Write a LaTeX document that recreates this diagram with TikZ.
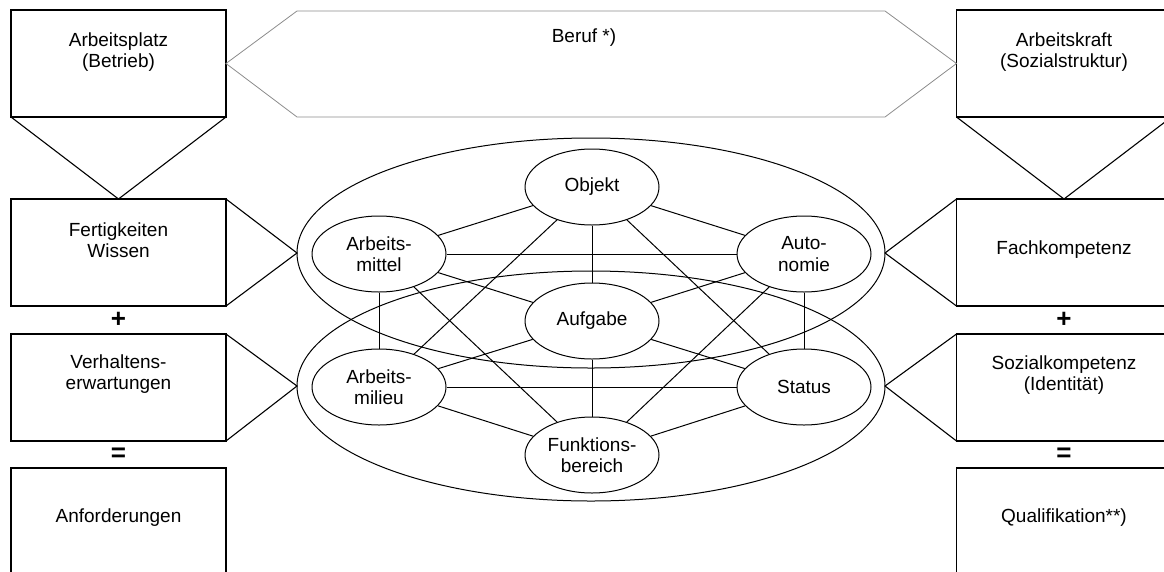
\documentclass[tikz,border=0pt]{standalone}
\usepackage{fontspec}
\setmainfont{Liberation Sans}
\usetikzlibrary{shapes.geometric}
\tikzset{
	kasten/.style={draw, line width=1.1pt, minimum width=215pt, minimum height=107pt, inner sep=0pt, outer sep=0pt},
	feld/.style={draw, ellipse, line width=1pt, minimum width=134pt, minimum height=76pt, inner sep=0pt},
	ring/.style={draw, ellipse, line width=1pt, minimum width=588pt, minimum height=230pt, inner sep=0pt, outer sep=0pt},
	linie/.style={line width=1.1pt},
	kante/.style={line width=1pt},
	zeichen/.style={font=\fontsize{26}{26}\selectfont\bfseries},
}
\begin{document}
\begin{tikzpicture}[x=1pt, y=-1pt, align=center, font=\fontsize{19}{21.5}\selectfont]
	    \useasboundingbox (0,0) rectangle (1164,571);
	    \clip (0,0) rectangle (1164,571);
	    
	    \node [kasten] (platz) at (118.5,63.5) {};
	    \node [kasten] (fert) at (118.5,252.5) {};
	    \node [kasten] (verh) at (118.5,387.5) {};
	    \node [kasten] (anf) at (118.5,521.5) {};
	    \node (platz-t) at (118.5,52) {Arbeitsplatz\\(Betrieb)};
	    \node (fert-t) at (118.5,240) {Fertigkeiten\\Wissen};
	    \node (verh-t) at (118.5,374) {Verhaltens-\\erwartungen};
	    \node (anf-t) at (118.5,518) {Anforderungen};
	    \node [zeichen] (plus-l) at (118.5,320) {+};
	    \node [zeichen] (gleich-l) at (118.5,455) {=};
	    
	    \node [kasten] (kraft) at (1064,63.5) {};
	    \node [kasten] (fach) at (1064,252.5) {};
	    \node [kasten] (sozial) at (1064,387.5) {};
	    \node [kasten] (quali) at (1064,521.5) {};
	    \node (kraft-t) at (1064,52) {Arbeitskraft\\(Sozialstruktur)};
	    \node (fach-t) at (1064,250) {Fachkompetenz};
	    \node (sozial-t) at (1064,375) {Sozialkompetenz\\(Identität)};
	    \node (quali-t) at (1064,518) {Qualifikation**)};
	    \node [zeichen] (plus-r) at (1064,320) {+};
	    \node [zeichen] (gleich-r) at (1064,455) {=};
	    
	    \coordinate (b-ol) at (297,11);
	    \coordinate (b-or) at (885,11);
	    \coordinate (b-ur) at (885,117);
	    \coordinate (b-ul) at (297,117);
	    \draw [black!45, line width=0.8pt] (platz.east) -- (b-ol) -- (b-or) -- (kraft.west) -- (b-ur) -- (b-ul) -- cycle;
	    \node (beruf) at (584,38) {Beruf *)};
	    
	    \node [ring] (oben) at (591,253) {};
	    \node [ring] (unten) at (591,386) {};
	    
	    \draw [linie] (platz.south west) -- (fert.north) -- (platz.south east);
	    \draw [linie] (kraft.south west) -- (fach.north) -- (kraft.south east);
	    \draw [linie] (fert.north east) -- (oben.west) -- (fert.south east);
	    \draw [linie] (verh.north east) -- (unten.west) -- (verh.south east);
	    \draw [linie] (fach.north west) -- (oben.east) -- (fach.south west);
	    \draw [linie] (sozial.north west) -- (unten.east) -- (sozial.south west);
	    
	    \node [feld] (objekt) at (592,187) {Objekt};
	    \node [feld] (mittel) at (379,254) {Arbeits-\\mittel};
	    \node [feld] (autonomie) at (804,254) {Auto-\\nomie};
	    \node [feld] (aufgabe) at (592,321) {Aufgabe};
	    \node [feld] (milieu) at (379,387) {Arbeits-\\milieu};
	    \node [feld] (status) at (804,387) {Status};
	    \node [feld] (bereich) at (592,455) {Funktions-\\bereich};
	    
	    \draw [kante] (objekt) -- (mittel);
	    \draw [kante] (objekt) -- (autonomie);
	    \draw [kante] (objekt) -- (aufgabe);
	    \draw [kante] (objekt) -- (milieu);
	    \draw [kante] (objekt) -- (status);
	    \draw [kante] (mittel) -- (autonomie);
	    \draw [kante] (mittel) -- (aufgabe);
	    \draw [kante] (mittel) -- (milieu);
	    \draw [kante] (mittel) -- (bereich);
	    \draw [kante] (autonomie) -- (aufgabe);
	    \draw [kante] (autonomie) -- (status);
	    \draw [kante] (autonomie) -- (bereich);
	    \draw [kante] (aufgabe) -- (milieu);
	    \draw [kante] (aufgabe) -- (status);
	    \draw [kante] (aufgabe) -- (bereich);
	    \draw [kante] (milieu) -- (status);
	    \draw [kante] (milieu) -- (bereich);
	    \draw [kante] (status) -- (bereich);
	    
	    \end{tikzpicture}
\end{document}
